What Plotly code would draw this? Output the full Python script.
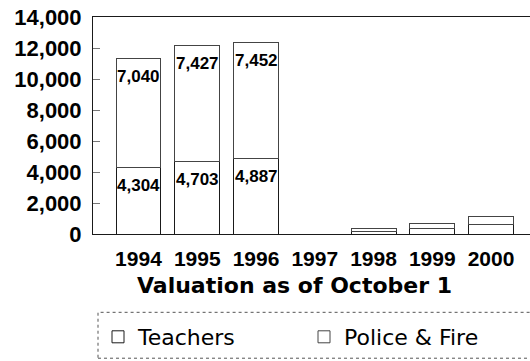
import plotly.graph_objects as go

# Valuation years and the two stacked series (thousands)
years = ["1994", "1995", "1996", "1997", "1998", "1999", "2000"]
teachers = [4304, 4703, 4887, 0, 190, 380, 640]
police_fire = [7040, 7427, 7452, 0, 175, 290, 495]
y_ticks = [0, 2000, 4000, 6000, 8000, 10000, 12000, 14000]
x_title = "Valuation as of October 1"

NUM_FONT = "Liberation Sans, Arial, sans-serif"
TXT_FONT = "DejaVu Sans, Liberation Sans, sans-serif"
INK = "#1a1a1a"

fig = go.Figure()
fig.add_trace(go.Bar(
    x=years, y=teachers, name="Teachers",
    marker=dict(color="white", line=dict(color=INK, width=1)),
))
fig.add_trace(go.Bar(
    x=years, y=police_fire, name="Police & Fire",
    marker=dict(color="white", line=dict(color="#444444", width=1)),
))

# value labels near the top of each sizeable segment
for i, (t, p) in enumerate(zip(teachers, police_fire)):
    for base, val in ((0, t), (t, p)):
        if val >= 1000:
            fig.add_annotation(
                x=i, xref="x", y=base + val, yref="y",
                text=f"{val:,}", showarrow=False,
                yanchor="middle", yshift=-18,
                font=dict(family=NUM_FONT, size=17, color="black", weight="bold"),
            )

# x-axis caption, set slightly left of the plot centre
fig.add_annotation(
    x=0.462, xref="paper", y=-0.237, yref="paper",
    text=x_title, showarrow=False, xanchor="center", yanchor="middle",
    font=dict(family=TXT_FONT, size=22, color="black", weight="bold"),
)

fig.update_layout(
    width=530, height=361,
    margin=dict(l=93, r=0, t=17, b=127, autoexpand=False),
    paper_bgcolor="white", plot_bgcolor="white",
    barmode="stack", bargap=0.235,
    showlegend=True,
    legend=dict(
        orientation="h", traceorder="normal",
        xref="container", yref="container",
        x=98 / 530, xanchor="left", y=1 - 316 / 361, yanchor="top",
        entrywidth=161, entrywidthmode="pixels",
        font=dict(family=TXT_FONT, size=22, color="black"),
        bgcolor="rgba(0,0,0,0)", borderwidth=0,
    ),
    shapes=[dict(
        type="rect", xref="paper", yref="paper",
        x0=5 / 437, x1=1.05, y0=1 - (359 - 17) / 217.5, y1=1 - (313 - 17) / 217.5,
        line=dict(color="#555555", width=1, dash="dot"),
    )],
    xaxis=dict(
        type="category",
        range=[-0.774, 6.663], showgrid=False, zeroline=False,
        showline=True, linecolor=INK, linewidth=1, mirror=True,
        ticks="", tickfont=dict(family=NUM_FONT, size=21, color="black", weight="bold"),
        ticklabelstandoff=6,
    ),
    yaxis=dict(
        range=[0, 14000], tickvals=y_ticks, tickformat=",d",
        showgrid=False, zeroline=False,
        showline=True, linecolor=INK, linewidth=1,
        ticks="inside", ticklen=7, tickcolor="#777777",
        ticklabelstandoff=6,
        tickfont=dict(family=NUM_FONT, size=22, color="black", weight="bold"),
    ),
)

fig.write_html("out.html")
